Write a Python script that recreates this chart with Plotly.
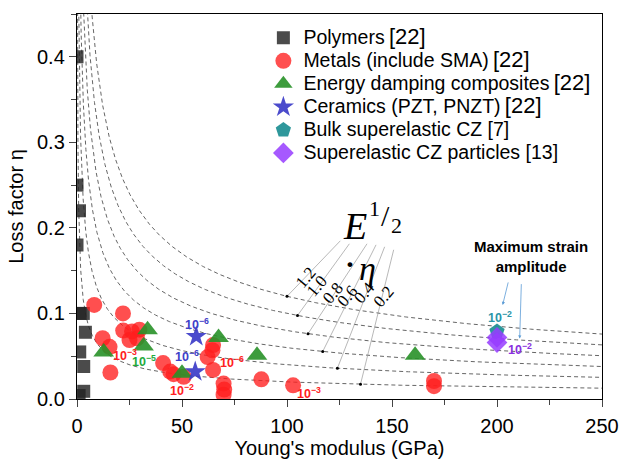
import numpy as np
import plotly.graph_objects as go

# ---- data: Young's modulus (GPa) vs loss factor ----
poly_E = [0.0, 0.0, 1.2, 0.0, 1.5, 3.0, 4.0, 1.3, 3.2, 3.2, 1.0]
poly_eta = [0.40, 0.25, 0.22, 0.18, 0.10, 0.10, 0.078, 0.055, 0.038, 0.009, 0.004]

metal_E = [8.2, 21.9, 22.0, 26.2, 29.7, 25.0, 28.6, 12.2, 15.5, 15.9, 41.0, 44.4,
           46.0, 50.8, 62.2, 64.5, 64.8, 64.8, 69.8, 70.1, 69.8, 87.8, 102.9, 170.0, 170.0]
metal_eta = [0.110, 0.100, 0.080, 0.079, 0.081, 0.069, 0.071, 0.071, 0.061, 0.031, 0.042, 0.032,
             0.029, 0.026, 0.049, 0.057, 0.063, 0.034, 0.018, 0.011, 0.005, 0.023, 0.016, 0.021, 0.015]

comp_E = [12.7, 33.6, 31.7, 50.0, 67.4, 85.7, 161.0]
comp_eta = [0.055, 0.081, 0.062, 0.030, 0.072, 0.051, 0.051]

ceram_E = [56.8, 56.3]
ceram_eta = [0.073, 0.032]

bulk_E = [200.0]
bulk_eta = [0.079]

part_E = [200.0, 200.0]
part_eta = [0.072, 0.066]

# iso-lines of E^(1/2) * eta
iso_C = [0.2, 0.4, 0.6, 0.8, 1.0, 1.2]
iso_labels = ["0.2", "0.4", "0.6", "0.8", "1.0", "1.2"]
dot_E = [135, 124, 117, 110, 105, 100]
leader_top_E = [150.8, 146.5, 142.4, 138.1, 129.7, 125.4]
leader_top_eta = [0.1744, 0.1779, 0.1802, 0.1814, 0.1814, 0.1849]
label_E = [146.1, 136.8, 128.6, 121.6, 113.9, 108.9]
label_eta = [0.1198, 0.1248, 0.1198, 0.1238, 0.1320, 0.1422]

# strain amplitude labels: (text, E, eta, colour)
strain_text = ["10<sup>−3</sup>", "10<sup>−5</sup>", "10<sup>−6</sup>", "10<sup>−6</sup>",
               "10<sup>−6</sup>", "10<sup>−2</sup>", "10<sup>−3</sup>", "10<sup>−2</sup>", "10<sup>−2</sup>"]
strain_E = [23.0, 32.0, 57.1, 52.4, 73.8, 50.0, 110.3, 201.6, 211.0]
strain_eta = [0.051, 0.0445, 0.088, 0.050, 0.043, 0.011, 0.0073, 0.0957, 0.059]
strain_color = ["#ff2020", "#1faa3c", "#4040c8", "#4040c8", "#ff2020", "#ff2020", "#ff2020",
                "#2a95a8", "#8a30e0"]

fig = go.Figure()

E_grid = np.geomspace(0.1, 250, 1500)
for C in iso_C:
    fig.add_trace(go.Scatter(x=E_grid, y=C / np.sqrt(E_grid), mode="lines",
                             line=dict(color="#666666", width=1, dash="4px,3px"),
                             showlegend=False, hoverinfo="skip"))

# leader lines from the iso-line labels to the curves
for i, C in enumerate(iso_C):
    fig.add_trace(go.Scatter(x=[dot_E[i], leader_top_E[i]],
                             y=[C / np.sqrt(dot_E[i]), leader_top_eta[i]],
                             mode="lines", line=dict(color="#9a9a9a", width=0.7),
                             showlegend=False, hoverinfo="skip"))
fig.add_trace(go.Scatter(x=dot_E, y=[C / np.sqrt(e) for C, e in zip(iso_C, dot_E)],
                         mode="markers", marker=dict(color="black", size=3),
                         showlegend=False, hoverinfo="skip"))

def label(txt, ref=None):
    s = "<span style='font-size:19.5px'>" + txt + "</span>"
    if ref:
        s += " <span style='font-size:22px'>" + ref + "</span>"
    return s

series = [
    (label("Polymers", "[22]"), poly_E, poly_eta, "square", 13, "rgba(35,35,35,0.82)"),
    (label("Metals (include SMA)", "[22]"), metal_E, metal_eta, "circle", 16, "rgba(255,30,30,0.78)"),
    (label("Energy damping composites", "[22]"), comp_E, comp_eta, "triangle-up", 18, "rgba(40,145,40,0.9)"),
    (label("Ceramics (PZT, PNZT)", "[22]"), ceram_E, ceram_eta, "star", 16, "rgba(60,60,200,0.92)"),
    (label("Bulk superelastic CZ [7]"), bulk_E, bulk_eta, "pentagon", 16, "rgba(35,145,150,0.95)"),
    (label("Superelastic CZ particles [13]"), part_E, part_eta, "diamond", 16, "rgba(150,60,255,0.85)"),
]
for name, xs, ys, sym, size, col in series:
    fig.add_trace(go.Scatter(x=xs, y=ys, mode="markers", name=name,
                             marker=dict(symbol=sym, size=size, color=col, line=dict(width=0))))

ann = []
for t, x, y, c in zip(strain_text, strain_E, strain_eta, strain_color):
    ann.append(dict(x=x, y=y, text="<b>" + t + "</b>", showarrow=False,
                    font=dict(family="Liberation Sans", size=12.5, color=c)))
for t, x, y in zip(iso_labels, label_E, label_eta):
    ann.append(dict(x=x, y=y, text=t, showarrow=False, textangle=-50,
                    font=dict(family="Liberation Serif", size=17, color="black")))

serif = "Liberation Serif"
ann += [
    dict(x=132.5, y=0.2023, text="<i>E</i>", showarrow=False, font=dict(family=serif, size=38)),
    dict(x=141.6, y=0.2227, text="1", showarrow=False, font=dict(family=serif, size=22)),
    dict(x=146.7, y=0.2140, text="/", showarrow=False, font=dict(family=serif, size=30)),
    dict(x=152.2, y=0.2033, text="2", showarrow=False, font=dict(family=serif, size=22)),
    dict(x=129.8, y=0.1585, text="<b>·</b>", showarrow=False, font=dict(family=serif, size=30)),
    dict(x=138.4, y=0.1520, text="<i>η</i>", showarrow=False, font=dict(family=serif, size=34)),
    dict(x=216, y=0.166, text="<b>Maximum strain<br>amplitude</b>", showarrow=False,
         font=dict(family="Liberation Sans", size=15, color="black")),
    dict(x=202.7, y=0.110, ax=205.5, ay=0.138, axref="x", ayref="y", text="",
         showarrow=True, arrowhead=2, arrowsize=0.8, arrowwidth=0.8, arrowcolor="#5b9bd5"),
    dict(x=210.8, y=0.0706, ax=211.6, ay=0.136, axref="x", ayref="y", text="",
         showarrow=True, arrowhead=2, arrowsize=0.8, arrowwidth=0.8, arrowcolor="#5b9bd5"),
]

axis_font = dict(family="Liberation Sans", size=20, color="black")
fig.update_layout(
    width=621, height=461,
    margin=dict(l=77, r=19, t=14, b=62, autoexpand=False),
    paper_bgcolor="white", plot_bgcolor="white",
    font=dict(family="Liberation Sans", color="black"),
    annotations=ann,
    legend=dict(x=0.355, y=0.981, xanchor="left", yanchor="top",
                bgcolor="rgba(0,0,0,0)", font=dict(family="Liberation Sans", size=15.4, color="black"),
                itemwidth=30),
    xaxis=dict(range=[0, 250], dtick=50, tick0=0, ticks="outside", ticklen=7, tickwidth=1.2,
               minor=dict(dtick=25, ticks="outside", ticklen=5, tickwidth=1.2),
               showline=True, linecolor="black", linewidth=1.4, mirror=True, automargin=False,
               showgrid=False, zeroline=False, tickfont=axis_font, ticklabelstandoff=2,
               title=dict(text="Young's modulus (GPa)",
                          font=dict(family="Liberation Sans", size=20, color="black"), standoff=3)),
    yaxis=dict(range=[0, 0.45], dtick=0.1, tick0=0, tickformat=".1f", ticks="outside", ticklen=7,
               tickwidth=1.2, minor=dict(dtick=0.05, ticks="outside", ticklen=5, tickwidth=1.2),
               showline=True, linecolor="black", linewidth=1.4, mirror=True, automargin=False,
               showgrid=False, zeroline=False, tickfont=axis_font,
               title=dict(text="Loss factor η",
                          font=dict(family="Liberation Sans", size=20, color="black"), standoff=7)),
    xaxis2=dict(range=[0, 250], overlaying="x", side="top", dtick=25, tick0=0, ticks="inside",
                ticklen=6, tickwidth=1.2, showticklabels=False, showgrid=False, zeroline=False,
                showline=False, anchor="y", automargin=False),
    yaxis2=dict(range=[0, 0.45], overlaying="y", side="right", dtick=0.05, tick0=0, ticks="inside",
                ticklen=6, tickwidth=1.2, showticklabels=False, showgrid=False, zeroline=False,
                showline=False, anchor="x", automargin=False),
)

fig.write_html("out.html")
